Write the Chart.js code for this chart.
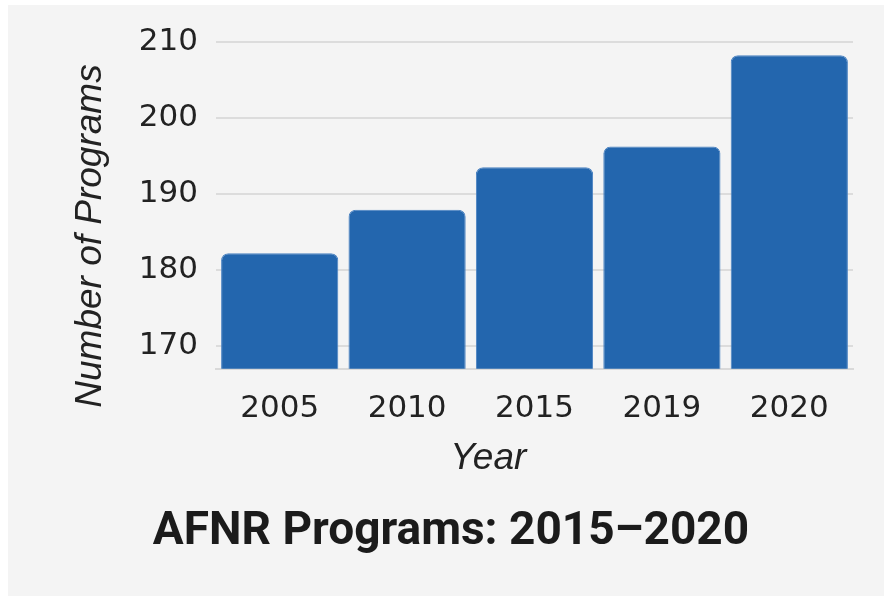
<!DOCTYPE html>
<html>
<head>
<meta charset="utf-8">
<script src="https://cdn.jsdelivr.net/npm/chart.js@4"></script>
<style>
  html, body { margin: 0; padding: 0; background: #ffffff; }
  #wrap { position: absolute; left: 8px; top: 5px; width: 876px; height: 591px; background: #f4f4f4; }
</style>
</head>
<body>
<div id="wrap"><canvas id="myChart"></canvas></div>
<script>
const years = ['2005', '2010', '2015', '2019', '2020']
const programs = [182.2, 187.9, 193.5, 196.2, 208.2]
const yTicks = [170, 180, 190, 200, 210]

// trailing spaces push the axis titles off centre like in the original
const pad = (n) => '\u00a0'.repeat(n)

const ctx = document.getElementById('myChart')

new Chart(ctx, {
  type: 'bar',
  data: {
    labels: years,
    datasets: [{
      label: 'Number of Programs',
      data: programs,
      backgroundColor: '#2366ae',
      borderColor: '#4a82c2',
      borderWidth: 1,
      borderRadius: {topLeft: 7, topRight: 7},
      borderSkipped: 'bottom',
      categoryPercentage: 1,
      barPercentage: 0.92
    }]
  },
  options: {
    responsive: true,
    maintainAspectRatio: false,
    animation: false,
    layout: {padding: {left: 41, right: 31, top: 28, bottom: 16}},
    plugins: {
      legend: {display: false},
      tooltip: {enabled: false},
      title: {
        display: true,
        position: 'bottom',
        text: 'AFNR Programs: 2015–2020',
        color: '#1b1b1b',
        font: {family: 'Roboto', size: 46, weight: 'bold'},
        padding: {top: 24, bottom: 20}
      }
    },
    scales: {
      x: {
        grid: {display: false},
        border: {display: true, color: '#d9d9d9', width: 2},
        ticks: {color: '#222', font: {family: 'DejaVu Sans', size: 31}, padding: 14},
        title: {
          display: true,
          text: 'Year' + pad(9),
          color: '#222',
          font: {family: 'Liberation Sans', size: 37, style: 'italic'},
          padding: {top: 0, bottom: 0}
        },
        afterFit: (scale) => { scale.height = 112 }
      },
      y: {
        min: 167,
        max: 210,
        grid: {color: '#dcdcdc', lineWidth: 2, drawTicks: false},
        border: {display: false},
        afterBuildTicks: (scale) => { scale.ticks = yTicks.map(v => ({value: v})) },
        ticks: {color: '#222', font: {family: 'DejaVu Sans', size: 31}, padding: 18},
        title: {
          display: true,
          text: 'Number of Programs' + pad(6),
          color: '#222',
          font: {family: 'Liberation Sans', size: 37, style: 'italic'},
          padding: {top: 20, bottom: 0}
        },
        afterFit: (scale) => { scale.width = 167 }
      }
    }
  }
})
</script>
</body>
</html>
